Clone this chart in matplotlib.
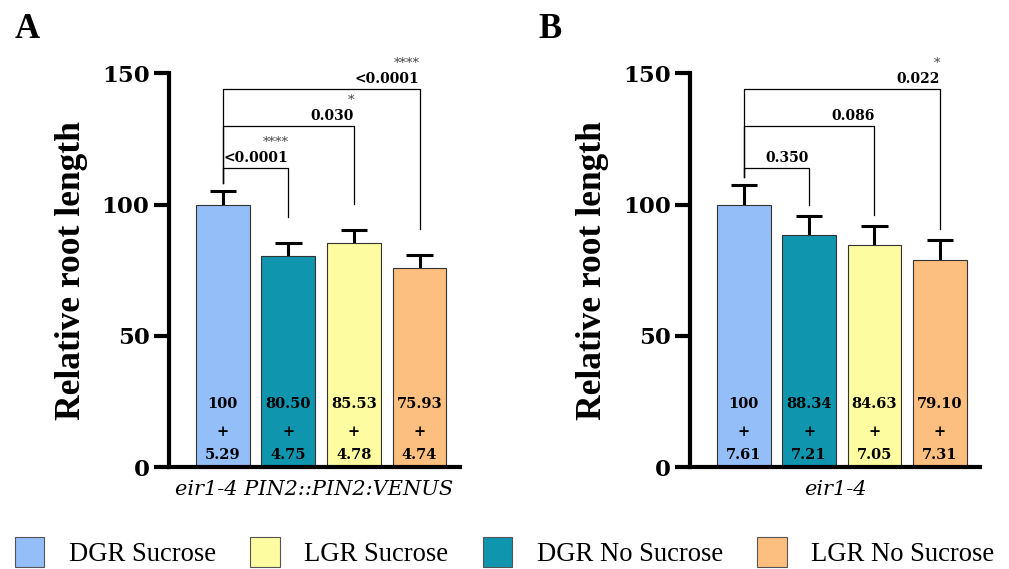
import matplotlib.pyplot as plt
import numpy as np

plt.rcParams['font.family'] = ['Liberation Serif', 'DejaVu Serif']
NUM = 'DejaVu Serif'

groups = ['DGR Sucrose', 'DGR No Sucrose', 'LGR Sucrose', 'LGR No Sucrose']
colors = ['#94bef7', '#0f95ae', '#fdfca0', '#fdbf80']

means_a = [100, 80.50, 85.53, 75.93]
sem_a = [5.29, 4.75, 4.78, 4.74]
pvals_a = ['<0.0001', '0.030', '<0.0001']
stars_a = ['****', '*', '****']

means_b = [100, 88.34, 84.63, 79.10]
sem_b = [7.61, 7.21, 7.05, 7.31]
pvals_b = ['0.350', '0.086', '0.022']
stars_b = ['', '', '*']

bracket_y = [114, 130, 144]


def panel(ax, means, sem, pvals, stars, xlabel, gap):
    x = np.arange(len(means))
    means = np.array(means)
    sem = np.array(sem)
    ax.bar(x, means, width=0.82, color=colors, edgecolor='#333333', linewidth=0.8, zorder=2)
    # upper-only error bars
    ax.vlines(x, means, means + sem, color='black', lw=2.2, zorder=1)
    ax.hlines(means + sem, x - 0.2, x + 0.2, color='black', lw=2.2, zorder=1)
    for xi, m, s in zip(x, means, sem):
        lab = '100' if m == 100 else f'{m:.2f}'
        ax.text(xi, 24, lab, ha='center', va='center', fontsize=10.5, fontweight='bold', family=NUM)
        ax.text(xi, 13.5, '+', ha='center', va='center', fontsize=10.5, fontweight='bold', family=NUM)
        ax.text(xi, 4.6, f'{s:.2f}', ha='center', va='center', fontsize=10.5, fontweight='bold', family=NUM)
    top0 = means[0] + sem[0] + 3
    for i, (yb, p, st) in enumerate(zip(bracket_y, pvals, stars)):
        j = i + 1
        end = means[j] + sem[j] + gap
        ax.plot([0, 0, j, j], [top0, yb, yb, end], color='black', lw=0.9, zorder=3)
        ax.text(j, yb + 1.2, p, ha='right', va='bottom', fontsize=10, fontweight='bold', family=NUM)
        if st:
            ax.text(j, yb + 7.2, st, ha='right', va='bottom', fontsize=9.5, color='#444444', family=NUM)
    ax.set_xlim(-0.82, 3.61)
    ax.set_ylim(0, 150)
    ax.set_yticks([0, 50, 100, 150])
    ax.set_xticks([])
    ax.spines['top'].set_visible(False)
    ax.spines['right'].set_visible(False)
    ax.spines['left'].set_linewidth(3)
    ax.spines['bottom'].set_linewidth(3)
    ax.tick_params(axis='y', length=11, width=3, labelsize=16.5, pad=3)
    for t in ax.get_yticklabels():
        t.set_fontweight('bold')
        t.set_family(NUM)
    ax.set_ylabel('Relative root length', fontsize=25.5, fontweight='bold', labelpad=10)
    ax.set_xlabel(xlabel, fontsize=15, fontstyle='italic', family=NUM, labelpad=9)


fig = plt.figure(figsize=(10.09, 5.69), dpi=100)
ax1 = fig.add_axes([0.1675, 0.179, 0.288, 0.692])
ax2 = fig.add_axes([0.684, 0.179, 0.287, 0.692])
panel(ax1, means_a, sem_a, pvals_a, stars_a, 'eir1-4 PIN2::PIN2:VENUS', 10)
panel(ax2, means_b, sem_b, pvals_b, stars_b, 'eir1-4', 4.5)

fig.text(0.014, 1 - 13 / 569, 'A', fontsize=25, fontweight='bold', va='top')
fig.text(0.534, 1 - 13 / 569, 'B', fontsize=25, fontweight='bold', va='top')

order = [0, 2, 1, 3]
handles = [plt.Rectangle((0, 0), 1, 1, facecolor=colors[i], edgecolor='#555555', linewidth=0.8)
           for i in order]
fig.legend(handles, [groups[i] for i in order], loc='lower center', ncol=4,
           bbox_to_anchor=(0.5, -0.03), frameon=False, fontsize=19.2,
           handlelength=1.1, handleheight=1.35, columnspacing=1.3, handletextpad=0.92,
           borderpad=0.2)

fig.savefig('out.png', dpi=100)
